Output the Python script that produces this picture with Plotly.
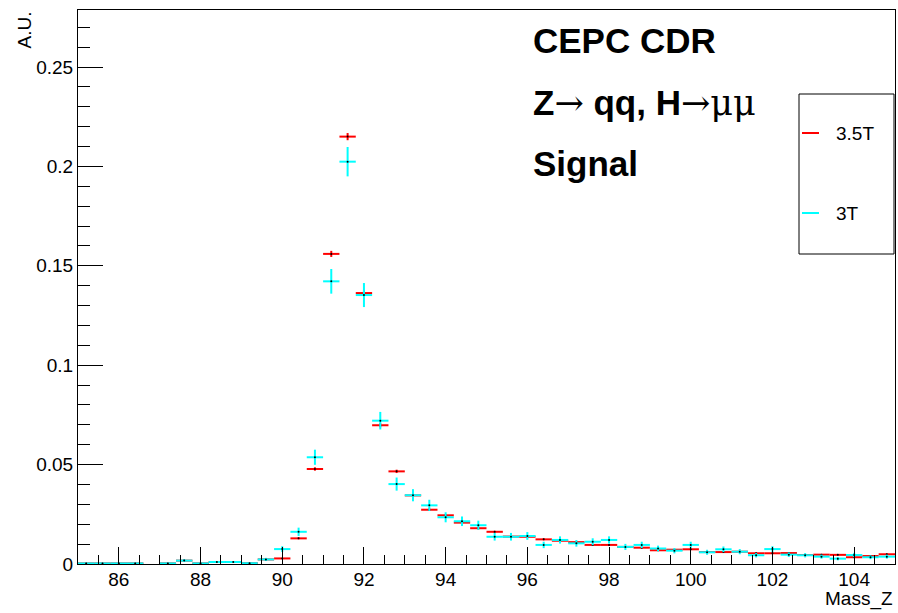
import numpy as np
import plotly.graph_objects as go

# Histogram binning: Mass_Z from 85 to 105 GeV in 50 bins
x_lo, x_hi, n_bins = 85.0, 105.0, 50
edges = np.linspace(x_lo, x_hi, n_bins + 1)
centers = 0.5 * (edges[:-1] + edges[1:])
half_width = 0.5 * (edges[1] - edges[0])

# Normalised bin contents (A.U.); None marks an empty bin
val_35T = [
    0.0003, 0.0003, 0.0003, 0.0003, None, 0.0003, 0.0017, 0.0003, 0.0010, 0.0010,
    0.0004, 0.0023, 0.0028, 0.0129, 0.0478, 0.1560, 0.2150, 0.1363, 0.0698, 0.0466,
    0.0345, 0.0273, 0.0245, 0.0208, 0.0180, 0.0162, 0.0138, 0.0137, 0.0124, 0.0117,
    0.0110, 0.0096, 0.0096, 0.0086, 0.0082, 0.0069, 0.0072, 0.0074, 0.0060, 0.0060,
    0.0062, 0.0054, 0.0054, 0.0055, 0.0045, 0.0047, 0.0046, 0.0034, 0.0040, 0.0049,
]
val_3T = [
    0.0003, 0.0003, 0.0003, 0.0003, None, 0.0003, 0.0017, 0.0003, 0.0010, 0.0010,
    0.0004, 0.0023, 0.0075, 0.0162, 0.0537, 0.1422, 0.2024, 0.1353, 0.0721, 0.0402,
    0.0346, 0.0295, 0.0235, 0.0215, 0.0195, 0.0137, 0.0137, 0.0141, 0.0096, 0.0121,
    0.0104, 0.0112, 0.0121, 0.0086, 0.0096, 0.0078, 0.0067, 0.0096, 0.0059, 0.0074,
    0.0062, 0.0044, 0.0075, 0.0047, 0.0044, 0.0037, 0.0027, 0.0045, 0.0034, 0.0037,
]

# Effective event counts behind each normalised histogram (Poisson errors)
n_events_35T = 66000
n_events_3T = 3700


def poisson_err(vals, n_events):
    return [None if v is None else float(np.sqrt(v / n_events)) for v in vals]


series = [
    ("3.5T", val_35T, n_events_35T, "#ff0000"),
    ("3T", val_3T, n_events_3T, "#00ffff"),
]

FONT = "Liberation Sans, Arial, Helvetica, sans-serif"
W, H = 898, 613
L, R, T, B = 78, 895, 10, 564   # frame in pixels


def fx(px):
    return (px - L) / (R - L)


def fy(py):
    return (B - py) / (B - T)


fig = go.Figure()
for name, vals, n_ev, color in series:
    fig.add_trace(go.Scatter(
        x=centers, y=vals, name=name, mode="markers",
        marker=dict(size=2, color="black"),
        error_y=dict(type="data", array=poisson_err(vals, n_ev),
                     color=color, thickness=2, width=0),
        error_x=dict(type="data", array=[half_width] * n_bins,
                     color=color, thickness=2, width=0),
        showlegend=False,
    ))

fig.update_layout(
    width=W, height=H, autosize=False,
    margin=dict(l=L, r=W - R, t=T, b=H - B, pad=0),
    paper_bgcolor="white", plot_bgcolor="white",
    font=dict(family=FONT, size=19, color="black"),
    xaxis=dict(
        range=[x_lo, x_hi], showgrid=False, zeroline=False,
        showline=True, linecolor="black", linewidth=1, mirror=True,
        ticks="inside", ticklen=17, tickwidth=1, tickcolor="black",
        tick0=86, dtick=2, tickfont=dict(size=19), ticklabelstandoff=-2,
        minor=dict(ticks="inside", ticklen=9, tickwidth=1,
                   tickcolor="black", dtick=0.5, showgrid=False),
    ),
    yaxis=dict(
        range=[0, 0.2787], showgrid=False, zeroline=False,
        showline=True, linecolor="black", linewidth=1, mirror=True,
        ticks="inside", ticklen=25, tickwidth=1, tickcolor="black",
        tick0=0, dtick=0.05, tickfont=dict(size=19),
        minor=dict(ticks="inside", ticklen=12, tickwidth=1,
                   tickcolor="black", dtick=0.01, showgrid=False),
    ),
)

SERIF = "font-family:DejaVu Serif"
annotations = [
    # axis titles
    dict(x=fx(R), y=fy(612), text="Mass_Z", xanchor="right", yanchor="bottom",
         font=dict(size=19)),
    dict(x=fx(24), y=fy(T), text="A.U.", textangle=-90, xanchor="center",
         yanchor="top", font=dict(size=19)),
    # plot labels
    dict(x=fx(531), y=fy(40), text="<b>CEPC CDR</b>", xanchor="left",
         yanchor="middle", font=dict(size=35)),
    dict(x=fx(531), y=fy(103),
         text=f"<b>Z</b><span style=\"{SERIF}\">\u2192</span>"
              f"<b> qq, H</b><span style=\"{SERIF}\">\u2192\u03bc\u03bc</span>",
         xanchor="left", yanchor="middle", font=dict(size=35)),
    dict(x=fx(531), y=fy(164), text="<b>Signal</b>", xanchor="left",
         yanchor="middle", font=dict(size=35)),
]

# legend box
leg_x0, leg_x1, leg_y0, leg_y1 = 799, 894, 94, 254
shapes = [dict(type="rect", xref="paper", yref="paper",
               x0=fx(leg_x0), x1=fx(leg_x1), y0=fy(leg_y1), y1=fy(leg_y0),
               line=dict(color="black", width=1), fillcolor="white", layer="above")]
for (name, _, _, color), ly in zip(series, [133, 213]):
    shapes.append(dict(type="line", xref="paper", yref="paper",
                       x0=fx(802), x1=fx(819), y0=fy(ly), y1=fy(ly),
                       line=dict(color=color, width=2), layer="above"))
    annotations.append(dict(x=fx(834), y=fy(ly), text=name, xanchor="left",
                            yanchor="middle", font=dict(size=19)))

for a in annotations:
    a.update(xref="paper", yref="paper", showarrow=False)
fig.update_layout(annotations=annotations, shapes=shapes)

fig.write_html("out.html")
